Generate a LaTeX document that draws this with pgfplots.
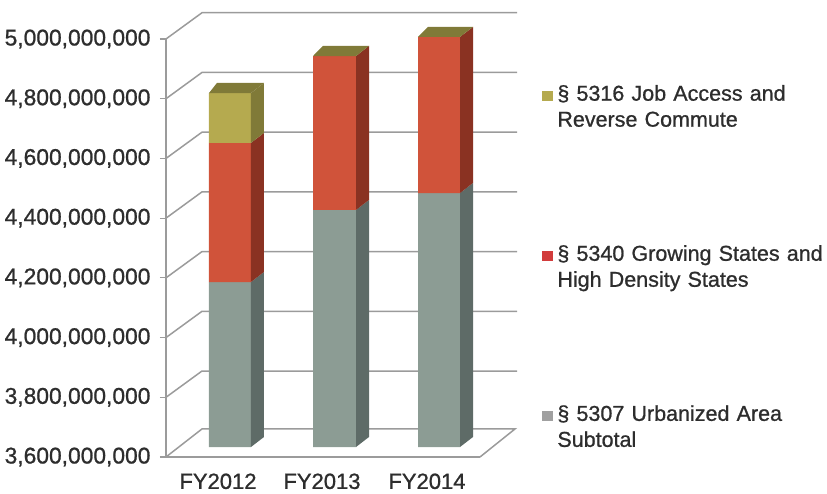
\documentclass[border=0pt]{standalone}
\usepackage{fontspec}
\setmainfont{Liberation Sans}
\newfontfamily\heavy{Liberation Sans}[FakeBold=0.9]
\usepackage{pgfplots}
\pgfplotsset{compat=1.18}
\definecolor{gridc}{RGB}{155,155,155}
\definecolor{txt}{RGB}{45,45,45}
\definecolor{grayf}{RGB}{140,156,148}
\definecolor{grays}{RGB}{94,107,103}
\definecolor{redf}{RGB}{208,83,58}
\definecolor{reds}{RGB}{138,50,34}
\definecolor{yelf}{RGB}{181,170,79}
\definecolor{yels}{RGB}{128,122,56}
\definecolor{legg}{RGB}{160,160,160}
\definecolor{legr}{RGB}{210,60,60}
% one stacked segment: xleft xright xback y0 y0back y1 y1back front side
\newcommand{\seg}[9]{%
  \addplot[forget plot,fill=#8,draw=none] coordinates {(#1,#4) (#2,#4) (#2,#6) (#1,#6) (#1,#4)};
  \addplot[forget plot,fill=#9,draw=none] coordinates {(#2,#4) (#3,#5) (#3,#7) (#2,#6) (#2,#4)};
}
% top of a bar: xleft xright xbackleft xbackright y yback
\newcommand{\barcap}[6]{%
  \addplot[forget plot,fill=yels,draw=none] coordinates {(#1,#5) (#2,#5) (#4,#6) (#3,#6) (#1,#5)};
}
\begin{document}
\begin{tikzpicture}
\useasboundingbox (-166pt,-36pt) rectangle (661pt,457pt);
\begin{axis}[
  scale only axis,
  width=314pt,
  height=418pt,
  clip=false,
  xmin=166, xmax=480,
  ymin=3600000000, ymax=5000000000,
  axis x line*=bottom,
  axis y line*=left,
  axis line style={gridc,line width=1.5pt},
  tick align=outside,
  major tick length=6pt,
  ytick={3600000000,3800000000,4000000000,4200000000,4400000000,4600000000,4800000000,5000000000},
  y tick style={gridc,line width=1.2pt},
  xtick={218,322,427},
  xticklabels={FY2012,FY2013,FY2014},
  x tick style={draw=none},
  extra x ticks={166,270,375,480},
  extra x tick labels={},
  extra x tick style={tick style={draw=gridc,line width=1.2pt}},
  scaled y ticks=false,
  /pgf/number format/fixed,
  /pgf/number format/precision=0,
  /pgf/number format/1000 sep={,},
  /pgf/number format/assume math mode=true,
  y tick label style={font=\fontsize{22.8}{26}\selectfont\heavy,text=txt,xshift=-6pt},
  x tick label style={font=\fontsize{22}{26}\selectfont\heavy,text=txt,yshift=-7pt},
  legend cell align=left,
  legend style={
    at={(axis cs:539,4853000000)},anchor=north west,
    draw=none,fill=none,
    font=\fontsize{21.5}{26}\selectfont\heavy,
    text=txt,
    row sep=143pt,
    nodes={inner sep=0pt,text width=275pt,align=left},
  },
  legend image code/.code={\fill[#1,draw=none] (-15pt,-7.5pt) rectangle (-4.5pt,3pt); \path (0pt,0pt);},
]
% walls and floor
\addplot[forget plot,gridc,line width=1.5pt,unbounded coords=jump] coordinates {
  (166,5000000000) (202,5088000000) (517,5088000000) (nan,nan)
  (166,4800000000) (202,4888000000) (517,4888000000) (nan,nan)
  (166,4600000000) (202,4688000000) (517,4688000000) (nan,nan)
  (166,4400000000) (202,4488000000) (517,4488000000) (nan,nan)
  (166,4200000000) (202,4288000000) (517,4288000000) (nan,nan)
  (166,4000000000) (202,4088000000) (517,4088000000) (nan,nan)
  (166,3800000000) (202,3888000000) (517,3888000000) (nan,nan)
  (166,3600000000) (202,3694000000) (515,3694000000) (480,3600000000)
};
% FY2012
\seg{209}{251}{264}{3633500000}{3667000000}{4186000000}{4220000000}{grayf}{grays}
\seg{209}{251}{264}{4186000000}{4220000000}{4652000000}{4685500000}{redf}{reds}
\seg{209}{251}{264}{4652000000}{4685500000}{4819000000}{4853000000}{yelf}{yels}
\barcap{209}{251}{217}{264}{4819000000}{4853000000}
% FY2013
\seg{313}{356}{369}{3633500000}{3667000000}{4427500000}{4461000000}{grayf}{grays}
\seg{313}{356}{369}{4427500000}{4461000000}{4943000000}{4977000000}{redf}{reds}
\barcap{313}{356}{323}{369}{4943000000}{4977000000}
% FY2014
\seg{418}{460}{473}{3633500000}{3667000000}{4484000000}{4518000000}{grayf}{grays}
\seg{418}{460}{473}{4484000000}{4518000000}{5007000000}{5040500000}{redf}{reds}
\barcap{418}{460}{428}{473}{5007000000}{5040500000}
\addlegendimage{fill=yelf}
\addlegendentry{§ 5316 Job Access and\\Reverse Commute}
\addlegendimage{fill=legr}
\addlegendentry{§ 5340 Growing States and\\High Density States}
\addlegendimage{fill=legg}
\addlegendentry{§ 5307 Urbanized Area\\Subtotal}
\end{axis}
\end{tikzpicture}
\end{document}
